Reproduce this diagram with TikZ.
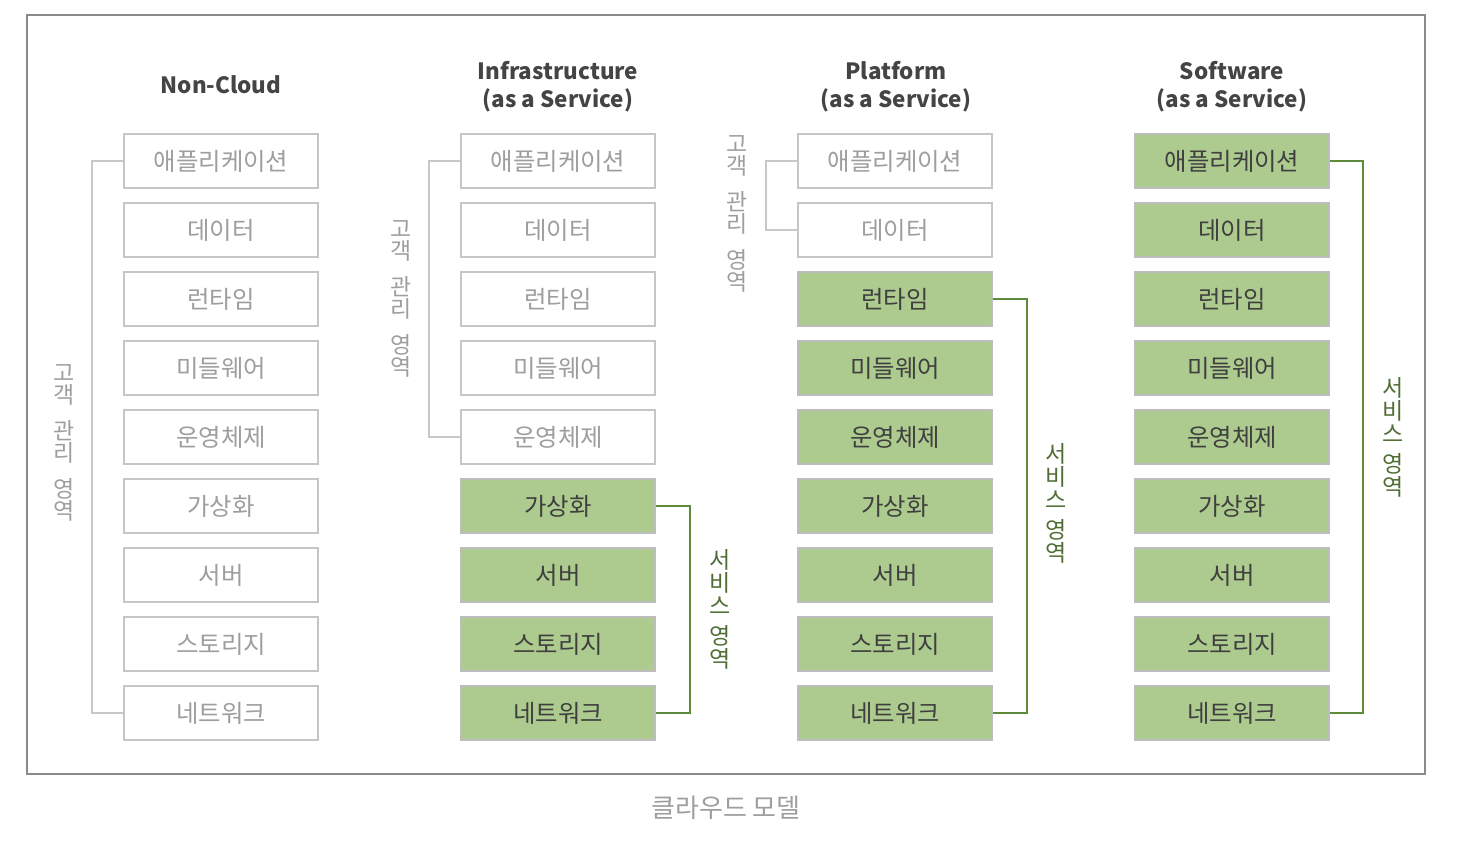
\documentclass[tikz,border=0pt]{standalone}
\usepackage{fontspec}
\setmainfont{Noto Sans CJK KR}
\usetikzlibrary{positioning}

\definecolor{framegray}{HTML}{8A8A8A}
\definecolor{boxgray}{HTML}{C6C6C6}
\definecolor{usertext}{HTML}{9E9E9E}
\definecolor{svcgreen}{HTML}{AECB8F}
\definecolor{svcborder}{HTML}{BDBDBD}
\definecolor{svctext}{HTML}{3F3F3F}
\definecolor{headtext}{HTML}{444444}
\definecolor{linegray}{HTML}{C8C8C8}
\definecolor{brackgreen}{HTML}{5E8A3C}
\definecolor{labelgreen}{HTML}{4F6E35}

\tikzset{
  userbox/.style={draw=boxgray, line width=0.8pt, fill=white, text=usertext,
    minimum width=97pt, minimum height=27pt, inner sep=0pt,
    font=\fontsize{12.2}{14}\selectfont},
  svcbox/.style={userbox, draw=svcborder, fill=svcgreen, text=svctext},
  head/.style={align=center, text=headtext, font=\fontsize{11.2}{14}\selectfont\bfseries},
  userline/.style={draw=linegray, line width=0.8pt},
  svcline/.style={draw=brackgreen, line width=0.8pt},
  userlabel/.style={align=center, inner sep=0pt, text=usertext,
    font=\fontsize{11.5}{10.75}\selectfont},
  svclabel/.style={align=center, inner sep=0pt, text=labelgreen,
    font=\fontsize{11.5}{11.5}\selectfont}
}

\begin{document}
\begin{tikzpicture}[x=0.5pt, y=-0.5pt]

\useasboundingbox (0,0) rectangle (1458,856);

\draw [framegray, line width=1pt] (27,15) rectangle (1425,774);
\node [text=usertext, font=\fontsize{13}{15}\selectfont] (caption) at (726,808) {클라우드 모델};

%% column headers
\node [head] (nchead) at (221,85) {Non-Cloud};
\node [head] (iahead) at (558,87) {Infrastructure\\(as a Service)};
\node [head] (pahead) at (896,87) {Platform\\(as a Service)};
\node [head] (sahead) at (1232,87) {Software\\(as a Service)};

%% stacks, green from row \gfrom on
\foreach \col/\cx/\gfrom in {nc/221/10, ia/558/6, pa/895/3, sa/1232/1} {
  \foreach \txt [count=\i] in {애플리케이션, 데이터, 런타임, 미들웨어, 운영체제, 가상화, 서버, 스토리지, 네트워크} {
    \ifnum\i<\gfrom \def\boxstyle{userbox}\else\def\boxstyle{svcbox}\fi
    \node [\boxstyle] (\col\i) at (\cx,{161+69*(\i-1)}) {\txt};
  }
}

%% Non-Cloud
\draw [userline] (nc1.west) -- ++(-31,0) |- (nc9.west);
\node [userlabel] (nclabel) at (64,443) {고\\객\\[7.5pt]관\\리\\[7.5pt]영\\역};

%% IaaS
\draw [userline] (ia1.west) -- ++(-31,0) |- (ia5.west);
\node [userlabel] (ialabel) at (401,299) {고\\객\\[7.5pt]관\\리\\[7.5pt]영\\역};
\draw [svcline] (ia6.east) -- ++(34,0) |- (ia9.east);
\node [svclabel] (iasvc) at (720,609) {서\\비\\스\\[3.5pt]영\\역};

%% PaaS
\draw [userline] (pa1.west) -- ++(-31,0) |- (pa2.west);
\node [userlabel] (palabel) at (737,214) {고\\객\\[7.5pt]관\\리\\[7.5pt]영\\역};
\draw [svcline] (pa3.east) -- ++(34,0) |- (pa9.east);
\node [svclabel] (pasvc) at (1056,503) {서\\비\\스\\[3.5pt]영\\역};

%% SaaS
\draw [svcline] (sa1.east) -- ++(33,0) |- (sa9.east);
\node [svclabel] (sasvc) at (1393,437) {서\\비\\스\\[3.5pt]영\\역};

\end{tikzpicture}
\end{document}
